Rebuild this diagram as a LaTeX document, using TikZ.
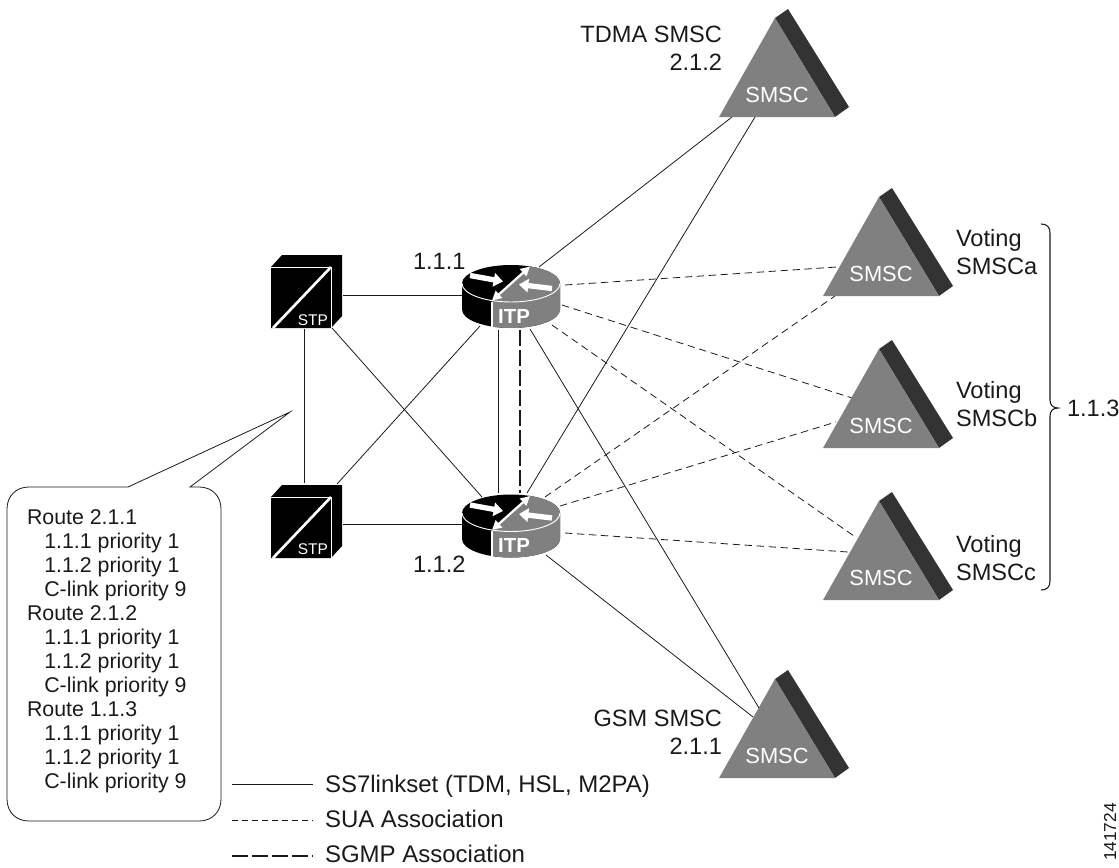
\documentclass[tikz,border=0pt]{standalone}
\usepackage{fontspec}
\setmainfont{Liberation Sans}
\usetikzlibrary{arrows.meta}
\definecolor{devgray}{HTML}{808080}
\definecolor{bandgray}{HTML}{333333}
\definecolor{inkc}{HTML}{1A1A1A}
\tikzset{
  link/.style={draw=inkc,line width=0.6pt},
  sua/.style={draw=inkc,line width=0.6pt,dash pattern=on 5.5pt off 3.5pt},
  suakey/.style={draw=inkc,line width=0.6pt,dash pattern=on 4.5pt off 3pt},
  sgmp/.style={draw=inkc,line width=1.7pt,dash pattern=on 12pt off 3pt},
  lab/.style={inner sep=0pt,outer sep=0pt,text=inkc,font=\fontsize{17.7}{20.4}\selectfont},
  keylab/.style={inner sep=0pt,outer sep=0pt,text=inkc,font=\fontsize{18}{20.4}\selectfont,anchor=base west},
  routes/.style={inner sep=0pt,outer sep=0pt,text=inkc,align=left,font=\fontsize{16}{18}\selectfont},
  smsctext/.style={inner sep=0pt,outer sep=0pt,text=white,font=\fontsize{16.4}{18}\selectfont,anchor=base},
  stptext/.style={inner sep=0pt,outer sep=0pt,text=white,font=\fontsize{11.6}{13}\selectfont,anchor=base east},
  itptext/.style={inner sep=0pt,outer sep=0pt,text=white,font=\fontsize{15.3}{17}\selectfont\bfseries,anchor=base},
  routerpic/.pic={
    \fill[black] (-49,0) -- (-49,26) arc[start angle=180,end angle=0,x radius=49,y radius=18.5] -- (49,0) arc[start angle=0,end angle=-180,x radius=49,y radius=18.5] -- cycle;
    \begin{scope}
      \clip (-19,18) -- (19,-18) -- (19,-30) -- (70,-30) -- (70,60) -- (-19,60) -- cycle;
      \fill[devgray] (-49,0) -- (-49,26) arc[start angle=180,end angle=0,x radius=49,y radius=18.5] -- (49,0) arc[start angle=0,end angle=-180,x radius=49,y radius=18.5] -- cycle;
    \end{scope}
    \draw[white,line width=0.7pt] (-49,0) arc[start angle=180,end angle=0,x radius=49,y radius=18.5];
    \draw[white,line width=1.1pt] (-19,18) -- (-19,45);
    \draw[white,line width=1.7pt,{Triangle[length=7pt,width=7pt]}-{Triangle[length=7pt,width=7pt]}] (-19,17) -- (19,-17);
    \draw[white,line width=4pt,-{Triangle[length=7pt,width=10pt]}] (-41,-8) -- (-8,-2);
    \draw[white,line width=4pt,-{Triangle[length=7pt,width=10pt]}] (41,5) -- (8,1);
  },
  cubepic/.pic={
    \fill[black] (0,0) -- (11,-12) -- (71,-12) -- (71,49) -- (60,61) -- (0,61) -- cycle;
    \draw[white,line width=0.7pt] (0,0) -- (60,0) -- (60,61);
    \draw[white,line width=2pt] (2,61) -- (60,0);
  },
  smscpic/.pic={
    \fill[bandgray] (56,-99) -- (69,-108) -- (130,-10) -- (116,0) -- cycle;
    \fill[devgray] (0,0) -- (56,-99) -- (116,0) -- cycle;
  }
}
\begin{document}
\begin{tikzpicture}[x=0.75pt,y=-0.75pt]
\useasboundingbox (0,0) rectangle (1119,867);

% connector end points
\coordinate (s1-r1) at (343,295);   \coordinate (r1-s1) at (462,295);
\coordinate (s2-r2) at (343,524);   \coordinate (r2-s2) at (462,524);
\coordinate (s1-s2) at (304,329);   \coordinate (s2-s1) at (304,483);
\coordinate (s1-r2) at (332,328);   \coordinate (r2-s1) at (482,497);
\coordinate (s2-r1) at (337,484);   \coordinate (r1-s2) at (480,326);
\coordinate (r1-r2) at (498,330);   \coordinate (r2-r1) at (498,493);
\coordinate (r1-r2d) at (520,330);  \coordinate (r2-r1d) at (520,493);
\coordinate (r1-g) at (530,329);    \coordinate (g-r1) at (759,708);
\coordinate (r2-g) at (546,555);    \coordinate (g-r2) at (753,717);
\coordinate (r1-t) at (539,267);    \coordinate (t-r1) at (732,117);
\coordinate (r2-t) at (527,493);    \coordinate (t-r2) at (755,117);
\coordinate (r1-a) at (565,285);    \coordinate (a-r1) at (837,267);
\coordinate (r1-b) at (562,305);    \coordinate (b-r1) at (852,398);
\coordinate (r1-c) at (552,325);    \coordinate (c-r1) at (854,536);
\coordinate (r2-a) at (545,497);    \coordinate (a-r2) at (835,296);
\coordinate (r2-b) at (560,506);    \coordinate (b-r2) at (836,422);
\coordinate (r2-c) at (565,533);    \coordinate (c-r2) at (848,552);
\coordinate (k1a) at (232,784);     \coordinate (k1b) at (313,784);
\coordinate (k2a) at (232,820);     \coordinate (k2b) at (313,820);
\coordinate (k3a) at (232,856);     \coordinate (k3b) at (313,856);

% connectors
\draw[link] (s1-r1) -- (r1-s1);
\draw[link] (s2-r2) -- (r2-s2);
\draw[link] (s1-s2) -- (s2-s1);
\draw[link] (s1-r2) -- (r2-s1);
\draw[link] (s2-r1) -- (r1-s2);
\draw[link] (r1-r2) -- (r2-r1);
\draw[sgmp] (r1-r2d) -- (r2-r1d);
\draw[link] (r1-g) -- (g-r1);
\draw[link] (r2-g) -- (g-r2);
\draw[link] (r1-t) -- (t-r1);
\draw[link] (r2-t) -- (t-r2);
\draw[sua] (r1-a) -- (a-r1);
\draw[sua] (r1-b) -- (b-r1);
\draw[sua] (r1-c) -- (c-r1);
\draw[sua] (r2-a) -- (a-r2);
\draw[sua] (r2-b) -- (b-r2);
\draw[sua] (r2-c) -- (c-r2);

% devices
\pic at (511,283.5) {routerpic};
\pic at (511,513) {routerpic};
\pic at (271,267) {cubepic};
\pic at (271,497) {cubepic};
\pic at (719,117) {smscpic};
\pic at (823,296) {smscpic};
\pic at (823,448) {smscpic};
\pic at (823,600) {smscpic};
\pic at (719,778) {smscpic};

\node[itptext] (r1) at (514,323) {ITP};
\node[itptext] (r2) at (514,552) {ITP};
\node[stptext] (s1) at (328,325) {STP};
\node[stptext] (s2) at (328,554) {STP};
\node[smsctext] (t) at (777,102) {SMSC};
\node[smsctext] (a) at (881,281) {SMSC};
\node[smsctext] (b) at (881,433) {SMSC};
\node[smsctext] (c) at (881,585) {SMSC};
\node[smsctext] (g) at (777,763) {SMSC};

% labels
\node[lab,anchor=base east,align=right] (ltdma) at (722,70) {TDMA SMSC\\2.1.2};
\node[lab,anchor=base west] (l111) at (413,269) {1.1.1};
\node[lab,anchor=base west] (l112) at (413,572) {1.1.2};
\node[lab,anchor=base west,align=left] (lva) at (956,274) {Voting\\SMSCa};
\node[lab,anchor=base west,align=left] (lvb) at (956,426) {Voting\\SMSCb};
\node[lab,anchor=base west,align=left] (lvc) at (956,580) {Voting\\SMSCc};
\node[lab,anchor=base west] (l113) at (1067,416) {1.1.3};
\node[lab,anchor=base east,align=right] (lgsm) at (722,754) {GSM SMSC\\2.1.1};

% brace
\draw[inkc,line width=0.8pt] (1041,224) .. controls (1047,224) and (1050,227) .. (1050,233)
  -- (1050,400) .. controls (1050,405) and (1053,408) .. (1058,408)
  .. controls (1053,408) and (1050,411) .. (1050,416)
  -- (1050,581) .. controls (1050,587) and (1047,590) .. (1041,590);

% callout
\draw[inkc,line width=0.6pt] (128,487) -- (290,412) -- (190,487) -- (199,487)
  .. controls (212,487) and (221,496) .. (221,509)
  -- (221,799) .. controls (221,812) and (212,821) .. (199,821)
  -- (29,821) .. controls (16,821) and (7,812) .. (7,799)
  -- (7,509) .. controls (7,496) and (16,487) .. (29,487) -- cycle;
\node[routes,anchor=base west] (routes) at (27,788) {Route 2.1.1\\
\hspace*{13pt}1.1.1 priority 1\\
\hspace*{13pt}1.1.2 priority 1\\
\hspace*{13pt}C-link priority 9\\
Route 2.1.2\\
\hspace*{13pt}1.1.1 priority 1\\
\hspace*{13pt}1.1.2 priority 1\\
\hspace*{13pt}C-link priority 9\\
Route 1.1.3\\
\hspace*{13pt}1.1.1 priority 1\\
\hspace*{13pt}1.1.2 priority 1\\
\hspace*{13pt}C-link priority 9};

% legend
\draw[link] (k1a) -- (k1b);
\draw[suakey] (k2a) -- (k2b);
\draw[sgmp] (k3a) -- (k3b);
\node[keylab] (key1) at (325,792) {SS7linkset (TDM, HSL, M2PA)};
\node[keylab] (key2) at (325,827) {SUA Association};
\node[keylab] (key3) at (325,862) {SGMP Association};
\node[lab,anchor=base,rotate=90,font=\fontsize{13}{15}\selectfont] (fig) at (1116,832) {141724};
\end{tikzpicture}
\end{document}
